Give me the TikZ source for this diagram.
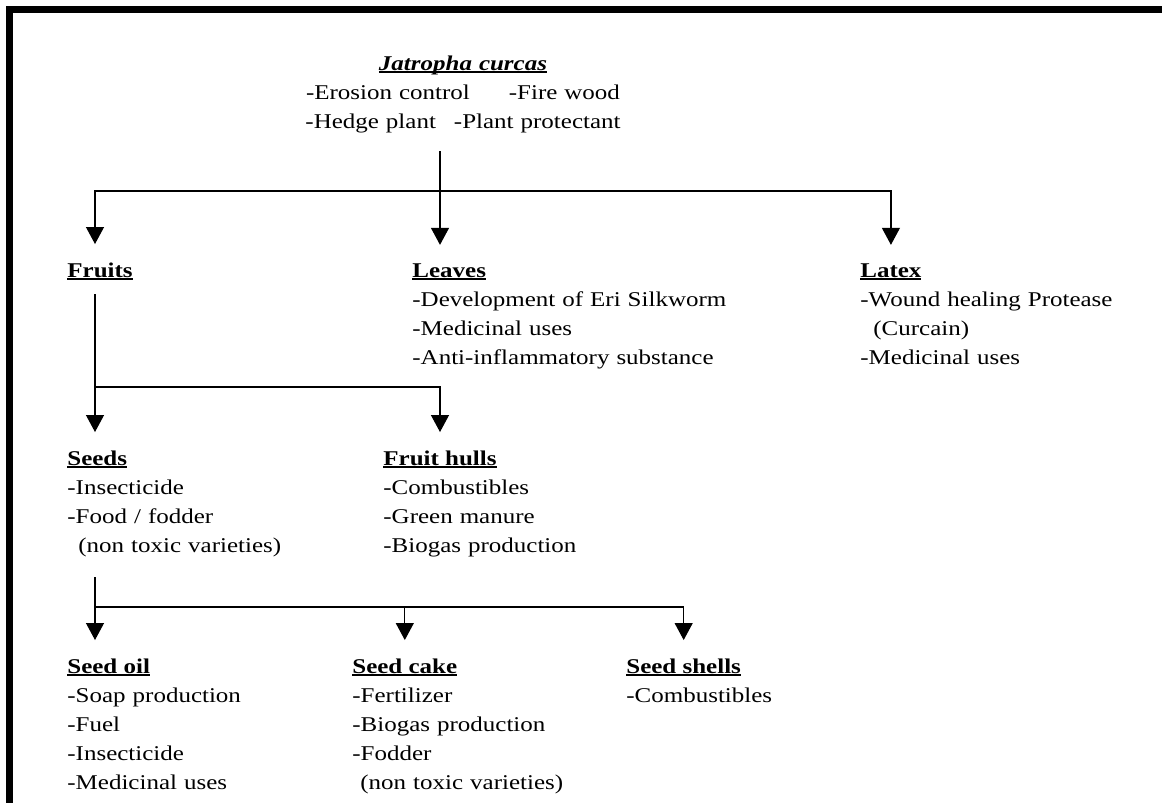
\documentclass[tikz,border=0pt]{standalone}
\usepackage{fontspec}
\setmainfont{Liberation Serif}[FakeStretch=1.19]
\usetikzlibrary{arrows.meta,calc}

% bold heading with a rule close under the baseline
\newcommand{\ulhead}[1]{\setbox0\hbox{\textbf{#1}}\rlap{\rule[-1.5pt]{\wd0}{0.9pt}}\box0}

\begin{document}
\begin{tikzpicture}[
  x=0.5pt, y=-0.5pt,
  font=\fontsize{10.5}{14.5}\selectfont,
  >={Triangle[length=8.5pt,width=9pt]},
  head/.style={inner sep=0pt, anchor=base west},
  items/.style={inner sep=0pt, anchor=base west, align=left, text width=#1},
  link/.style={line width=0.6pt, draw=black},
  flow/.style={link, ->, shorten >=9pt},
  frame/.style={line width=3.2pt, draw=black, line join=miter},
]
\useasboundingbox (0,0) rectangle (1162,803);
\draw[frame] (9.5,803) -- (9.5,9.5) -- (1162,9.5);

% the plant and its own uses
\node[inner sep=0pt, anchor=base, align=center, text width=170pt] (jc) at (463,70)
  {\ulhead{\textit{Jatropha curcas}}\\
   -Erosion control\hspace{19.5pt}-Fire wood\\
   -Hedge plant\hspace{9pt}-Plant protectant};

% first level
\node[head] (hfruits) at (67,277) {\ulhead{Fruits}};
\node[head] (hleaves) at (412,277) {\ulhead{Leaves}};
\node[items=165pt] (leaves) at ($(hleaves.base west)+(0,29)$)
  {-Development of Eri Silkworm\\-Medicinal uses\\-Anti-inflammatory substance};
\node[head] (hlatex) at (860,277) {\ulhead{Latex}};
\node[items=145pt] (latex) at ($(hlatex.base west)+(0,29)$)
  {-Wound healing Protease\\\hspace*{6.5pt}(Curcain)\\-Medicinal uses};

% parts of the fruit
\node[head] (hseeds) at (67,465) {\ulhead{Seeds}};
\node[items=125pt] (seeds) at ($(hseeds.base west)+(0,29)$)
  {-Insecticide\\-Food / fodder\\\hspace*{5.5pt}(non toxic varieties)};
\node[head] (hhulls) at (383,465) {\ulhead{Fruit hulls}};
\node[items=115pt] (hulls) at ($(hhulls.base west)+(0,29)$)
  {-Combustibles\\-Green manure\\-Biogas production};

% parts of the seed
\node[head] (hoil) at (67,673) {\ulhead{Seed oil}};
\node[items=105pt] (oil) at ($(hoil.base west)+(0,29)$)
  {-Soap production\\-Fuel\\-Insecticide\\-Medicinal uses};
\node[head] (hcake) at (352,673) {\ulhead{Seed cake}};
\node[items=125pt] (cake) at ($(hcake.base west)+(0,29)$)
  {-Fertilizer\\-Biogas production\\-Fodder\\\hspace*{4pt}(non toxic varieties)};
\node[head] (hshells) at (626,673) {\ulhead{Seed shells}};
\node[items=85pt] (shells) at ($(hshells.base west)+(0,29)$)
  {-Combustibles};

\coordinate (j1) at (440,191);
\coordinate (j2) at (95,387);
\coordinate (j3) at (95,607);

\draw[link, shorten <=9.2pt] (jc.south -| j1) -- (j1);
\draw[flow] (j1) -| (j2 |- hfruits.north);
\draw[flow] (j1) -- (j1 |- hleaves.north);
\draw[flow] (j1) -| (hlatex.north);

\draw[link, shorten <=7pt] (hfruits.south -| j2) -- (j2);
\draw[flow] (j2) -- (j2 |- hseeds.north);
\draw[flow] (j2) -| (hhulls.north);

\draw[link, shorten <=10.2pt] (seeds.south -| j3) -- (j3);
\draw[flow] (j3) -- (j3 |- hoil.north);
\draw[flow] (j3) -| (hcake.north);
\draw[flow] (j3) -| (hshells.north);

\end{tikzpicture}
\end{document}
